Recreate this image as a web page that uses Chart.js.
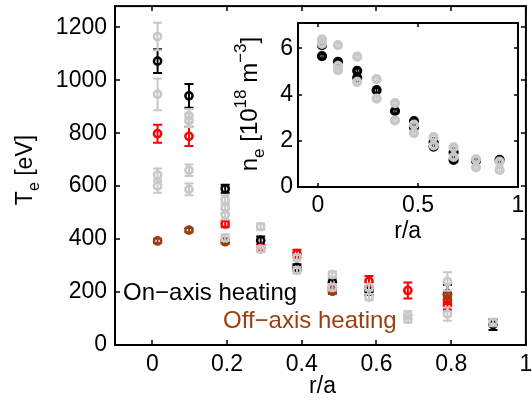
<!DOCTYPE html>
<html>
<head>
<meta charset="utf-8">
<script src="https://cdn.jsdelivr.net/npm/chart.js@4/dist/chart.umd.min.js"></script>
<style>
  html, body { margin: 0; padding: 0; background: #fff; }
  #wrap { position: relative; width: 532px; height: 406px; overflow: hidden; }
  #main { position: absolute; left: 0; top: 0; }
  #inset { position: absolute; left: 225px; top: 0; }
</style>
</head>
<body>
<div id="wrap">
  <canvas id="main" width="532" height="406"></canvas>
  <canvas id="inset" width="307" height="245"></canvas>
</div>
<script>
// ---- Electron temperature T_e [eV] versus r/a ----
// other discharges (grey)
const grayR   = [0.014, 0.014, 0.014, 0.014, 0.098, 0.098, 0.098, 0.098, 0.195, 0.195, 0.195, 0.195,
                 0.29, 0.29, 0.387, 0.387, 0.482, 0.482, 0.58, 0.58, 0.684, 0.684, 0.79, 0.79, 0.912];
const grayTe  = [1165, 947, 642, 600, 866, 848, 660, 588, 548, 517, 492, 405,
                 447, 362, 330, 282, 266, 218, 218, 181, 113, 98, 240, 117, 85];
const grayErr = [52, 60, 25, 25, 25, 25, 22, 22, 18, 18, 18, 12,
                 12, 12, 12, 12, 12, 12, 12, 12, 14, 14, 35, 25, 14];
// off-axis heating (brown)
const offR    = [0.014, 0.098, 0.195, 0.482, 0.79];
const offTe   = [393, 434, 390, 203, 187];
const offErr  = [8, 8, 8, 10, 15];
// on-axis heating, second discharge (red)
const redR    = [0.014, 0.098, 0.195, 0.29, 0.387, 0.482, 0.58, 0.684, 0.79, 0.79];
const redTe   = [798, 788, 457, 366, 345, 215, 241, 206, 170, 148];
const redErr  = [34, 36, 12, 12, 15, 12, 20, 30, 15, 15];
// on-axis heating (black)
const onR     = [0.014, 0.098, 0.195, 0.29, 0.387, 0.482, 0.58, 0.79, 0.912];
const onTe    = [1072, 941, 590, 395, 293, 236, 204, 193, 77];
const onErr   = [45, 45, 15, 15, 12, 15, 15, 35, 20];

// ---- Electron density n_e [10^18 m^-3] versus r/a (inset) ----
const neGrayR = [0.02, 0.02, 0.1, 0.1, 0.1, 0.196, 0.196, 0.293, 0.293, 0.385, 0.385,
                 0.48, 0.48, 0.578, 0.578, 0.678, 0.678, 0.79, 0.79, 0.908, 0.908];
const neGray  = [6.39, 6.2, 6.14, 5.25, 5.06, 5.64, 4.55, 4.67, 3.83, 3.63, 2.88,
                 2.7, 2.33, 2.16, 1.8, 1.72, 1.3, 1.2, 0.85, 1.1, 0.74];
const neGrayErr = [0.1, 0.1, 0.1, 0.1, 0.1, 0.1, 0.1, 0.1, 0.1, 0.1, 0.1,
                   0.1, 0.1, 0.1, 0.1, 0.1, 0.1, 0.1, 0.1, 0.1, 0.1];
const neOnR   = [0.02, 0.02, 0.1, 0.196, 0.196, 0.293, 0.385, 0.48, 0.48, 0.578, 0.578, 0.678, 0.678, 0.79, 0.908];
const neOn    = [6.14, 5.67, 5.42, 5.03, 4.74, 4.19, 3.29, 2.85, 2.59, 1.94, 1.75, 1.5, 1.17, 1.14, 1.17];
const neOnErr = [0.1, 0.1, 0.1, 0.1, 0.1, 0.1, 0.1, 0.1, 0.1, 0.1, 0.1, 0.1, 0.1, 0.1, 0.1];

// tick positions
const teTicks    = [0, 200, 400, 600, 800, 1000, 1200];
const rTicksMain = [0, 0.2, 0.4, 0.6, 0.8, 1];
const neTicks    = [0, 2, 4, 6];
const rTicksInset = [0, 0.5, 1];

const FONT = '"Liberation Sans", Arial, Helvetica, sans-serif';
const GREY = '#c8c8c8';
const BROWN = '#9c3f0e';
const RED = '#ff0000';
const BLACK = '#000000';

const pts = (xs, ys) => xs.map((x, i) => ({ x: x, y: ys[i] }));
const fmt = v => String(+Number(v).toFixed(2));

// text with sub/superscripts
function drawRich(ctx, parts, x, y, size, color, rot, align) {
  ctx.save();
  ctx.translate(x, y);
  if (rot) ctx.rotate(rot);
  ctx.fillStyle = color;
  ctx.textBaseline = 'alphabetic';
  ctx.textAlign = 'left';
  const fontOf = p => `${(p.sub || p.sup) ? Math.round(size * 0.7) : size}px ${FONT}`;
  let w = 0;
  parts.forEach(p => { ctx.font = fontOf(p); w += ctx.measureText(p.t).width; });
  let cx = align === 'center' ? -w / 2 : 0;
  parts.forEach(p => {
    ctx.font = fontOf(p);
    const dy = p.sub ? size * 0.3 : (p.sup ? -size * 0.45 : 0);
    ctx.fillText(p.t, cx, dy);
    cx += ctx.measureText(p.t).width;
  });
  ctx.restore();
}

// vertical error bars, drawn under each dataset's markers
const errorBarPlugin = {
  id: 'errorBars',
  beforeDatasetDraw(chart, args, opts) {
    const ds = chart.data.datasets[args.index];
    if (!ds.errors) return;
    const { ctx, scales: { x, y } } = chart;
    ctx.save();
    ctx.strokeStyle = ds.borderColor;
    ctx.lineWidth = opts.width;
    ctx.beginPath();
    ds.data.forEach((p, i) => {
      const e = ds.errors[i];
      const px = x.getPixelForValue(p.x);
      const y1 = y.getPixelForValue(p.y - e);
      const y2 = y.getPixelForValue(p.y + e);
      ctx.moveTo(px, y1); ctx.lineTo(px, y2);
      if (opts.cap) {
        ctx.moveTo(px - opts.cap, y1); ctx.lineTo(px + opts.cap, y1);
        ctx.moveTo(px - opts.cap, y2); ctx.lineTo(px + opts.cap, y2);
      }
    });
    ctx.stroke();
    ctx.restore();
  }
};

// boxed axes with inward ticks on all four sides
const framePlugin = {
  id: 'frame',
  beforeDraw(chart, args, opts) {
    if (!opts.fill) return;
    const a = chart.chartArea;
    chart.ctx.save();
    chart.ctx.fillStyle = '#fff';
    chart.ctx.fillRect(a.left, a.top, a.right - a.left, a.bottom - a.top);
    chart.ctx.restore();
  },
  afterDatasetsDraw(chart, args, opts) {
    const { ctx, chartArea: a, scales: { x, y } } = chart;
    ctx.save();
    ctx.strokeStyle = '#000';
    ctx.lineWidth = opts.tickWidth;
    ctx.beginPath();
    opts.xTicks.forEach(v => {
      const px = Math.round(x.getPixelForValue(v));
      ctx.moveTo(px, a.bottom); ctx.lineTo(px, a.bottom - opts.tickLen);
      ctx.moveTo(px, a.top); ctx.lineTo(px, a.top + opts.tickLen);
    });
    opts.yTicks.forEach(v => {
      const py = Math.round(y.getPixelForValue(v));
      ctx.moveTo(a.left, py); ctx.lineTo(a.left + opts.tickLen, py);
      ctx.moveTo(a.right, py); ctx.lineTo(a.right - opts.tickLen, py);
    });
    ctx.stroke();
    ctx.lineWidth = opts.lineWidth;
    ctx.strokeRect(a.left, a.top, a.right - a.left, a.bottom - a.top);
    ctx.restore();
  }
};

// free text: axis titles and heating labels
const textPlugin = {
  id: 'texts',
  afterDraw(chart, args, opts) {
    (opts.items || []).forEach(it =>
      drawRich(chart.ctx, it.parts, it.x, it.y, it.size, it.color || '#000', it.rot || 0, it.align || 'left'));
  }
};

function makeSet(xs, ys, errs, color, radius, bw) {
  return {
    data: pts(xs, ys),
    errors: errs,
    showLine: false,
    borderColor: color,
    backgroundColor: 'rgba(0,0,0,0)',
    borderWidth: bw,
    pointBorderColor: color,
    pointBackgroundColor: 'rgba(0,0,0,0)',
    pointRadius: radius,
    pointHoverRadius: radius,
    pointBorderWidth: bw,
    pointHoverBorderWidth: bw,
    pointStyle: 'circle'
  };
}

function axis(min, max, ticks, size, pad, fit) {
  return {
    type: 'linear',
    min: min, max: max,
    grid: { display: false, drawTicks: false },
    border: { display: false },
    afterBuildTicks: s => { s.ticks = ticks.map(v => ({ value: v })); },
    afterFit: fit,
    ticks: {
      color: '#000',
      font: { family: FONT, size: size },
      padding: pad,
      maxRotation: 0,
      autoSkip: false,
      callback: v => fmt(v)
    }
  };
}

// main panel: T_e profiles
new Chart(document.getElementById('main'), {
  type: 'scatter',
  data: {
    datasets: [
      makeSet(grayR, grayTe, grayErr, GREY, 3.6, 2.5),
      makeSet(offR, offTe, offErr, BROWN, 3.6, 2.5),
      makeSet(redR, redTe, redErr, RED, 3.6, 2.5),
      makeSet(onR, onTe, onErr, BLACK, 3.6, 2.5)
    ]
  },
  plugins: [errorBarPlugin, framePlugin, textPlugin],
  options: {
    responsive: false,
    animation: false,
    devicePixelRatio: 1,
    layout: { padding: { left: 0, top: 3, right: 2, bottom: 0 } },
    scales: {
      x: axis(-0.1, 1, rTicksMain, 23, 6, s => { s.height = 61; s.paddingLeft = 0; s.paddingRight = 0; }),
      y: axis(0, 1280, teTicks, 23, 8, s => { s.width = 115; s.paddingTop = 0; s.paddingBottom = 0; })
    },
    plugins: {
      legend: { display: false },
      tooltip: { enabled: false },
      errorBars: { width: 2, cap: 4.5 },
      frame: { tickLen: 5, tickWidth: 1.5, lineWidth: 2, xTicks: rTicksMain, yTicks: teTicks, fill: false },
      texts: {
        items: [
          { parts: [{ t: 'T' }, { t: 'e', sub: true }, { t: ' [eV]' }], x: 32, y: 170, size: 23, rot: -Math.PI / 2, align: 'center' },
          { parts: [{ t: 'r/a' }], x: 322.5, y: 393, size: 23, align: 'center' },
          { parts: [{ t: 'On\u2212axis heating' }], x: 123, y: 300, size: 24 },
          { parts: [{ t: 'Off\u2212axis heating' }], x: 223, y: 328, size: 24, color: BROWN }
        ]
      }
    }
  }
});

// inset: n_e profiles
new Chart(document.getElementById('inset'), {
  type: 'scatter',
  data: {
    datasets: [
      makeSet(neGrayR, neGray, neGrayErr, GREY, 3.3, 3.6),
      makeSet(neOnR, neOn, neOnErr, BLACK, 3.3, 3.6)
    ]
  },
  plugins: [errorBarPlugin, framePlugin, textPlugin],
  options: {
    responsive: false,
    animation: false,
    devicePixelRatio: 1,
    layout: { padding: { left: 0, top: 23, right: 14, bottom: 0 } },
    scales: {
      x: axis(-0.1, 1, rTicksInset, 23, 5, s => { s.height = 58; s.paddingLeft = 0; s.paddingRight = 0; }),
      y: axis(0, 7.1, neTicks, 23, 5, s => { s.width = 73; s.paddingTop = 0; s.paddingBottom = 0; })
    },
    plugins: {
      legend: { display: false },
      tooltip: { enabled: false },
      errorBars: { width: 1.5, cap: 0 },
      frame: { tickLen: 4, tickWidth: 1.5, lineWidth: 2, xTicks: rTicksInset, yTicks: neTicks, fill: true },
      texts: {
        items: [
          { parts: [{ t: 'n' }, { t: 'e', sub: true }, { t: ' [10' }, { t: '18', sup: true }, { t: ' m' }, { t: '\u22123', sup: true }, { t: ']' }],
            x: 32, y: 104, size: 24, rot: -Math.PI / 2, align: 'center' },
          { parts: [{ t: 'r/a' }], x: 182.7, y: 238, size: 23, align: 'center' }
        ]
      }
    }
  }
});
</script>
</body>
</html>
